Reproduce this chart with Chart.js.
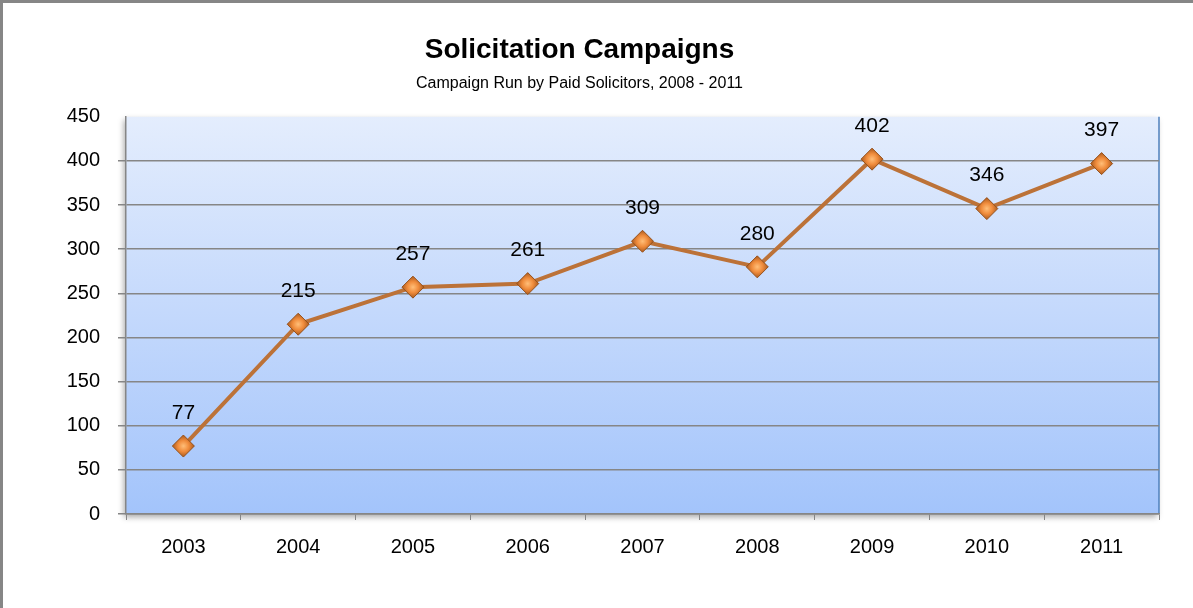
<!DOCTYPE html>
<html>
<head>
<meta charset="utf-8">
<script src="https://cdn.jsdelivr.net/npm/chart.js@4/dist/chart.umd.min.js"></script>
<style>
  body { margin: 0; background: #fff; }
  #wrap { width: 1193px; height: 608px; position: relative; }
</style>
</head>
<body>
<div id="wrap"><canvas id="campaigns"></canvas></div>
<script>
    // chart data
    const years = ['2003', '2004', '2005', '2006', '2007', '2008', '2009', '2010', '2011'];
    const campaigns = [77, 215, 257, 261, 309, 280, 402, 346, 397];
    const yTicks = [0, 50, 100, 150, 200, 250, 300, 350, 400, 450];

    const LINE_COLOR = 'rgb(188, 114, 56)';
    const GRID_COLOR = 'rgb(134, 134, 134)';
    const FONT = "'Liberation Sans', 'DejaVu Sans', sans-serif";

    // plot background, frame and right border
    const backgroundPlugin = {
    id: 'plotBackground',
    beforeDraw(chart) {
    const ctx = chart.ctx;
    const a = chart.chartArea;
    ctx.save();
    ctx.fillStyle = '#fff';
    ctx.fillRect(0, 0, chart.width, chart.height);
    // frame
    ctx.fillStyle = 'rgb(134, 134, 134)';
    ctx.fillRect(0, 0, chart.width, 3);
    ctx.fillRect(0, 0, 3, chart.height);
    // soft shadow
    ctx.shadowColor = 'rgba(0, 0, 0, 0.35)';
    ctx.shadowBlur = 6;
    ctx.shadowOffsetX = -2;
    ctx.shadowOffsetY = 3;
    const g = ctx.createLinearGradient(0, a.top, 0, a.bottom);
    g.addColorStop(0, 'rgb(228, 237, 253)');
    g.addColorStop(1, 'rgb(163, 196, 251)');
    ctx.fillStyle = g;
    ctx.fillRect(a.left, a.top, a.right - a.left, a.bottom - a.top);
    ctx.restore();
    ctx.save();
    ctx.strokeStyle = 'rgb(79, 129, 189)';
    ctx.lineWidth = 1.5;
    ctx.beginPath();
    ctx.moveTo(a.right, a.top);
    ctx.lineTo(a.right, a.bottom);
    ctx.stroke();
    ctx.restore();
}
};

    // value labels above points
    const valueLabelPlugin = {
    id: 'valueLabels',
    afterDatasetsDraw(chart) {
    const ctx = chart.ctx;
    const meta = chart.getDatasetMeta(0);
    ctx.save();
    ctx.fillStyle = '#000';
    ctx.font = '21px ' + FONT;
    ctx.textAlign = 'center';
    ctx.textBaseline = 'middle';
    meta.data.forEach((pt, i) => {
    ctx.fillText(String(campaigns[i]), pt.x, pt.y - 33);
});
    ctx.restore();
}
};

    function markerFill(context) {
    const el = context.element;
    if (!el || el.x === undefined || isNaN(el.x)) {
    return 'rgb(236, 140, 60)';
}
    const ctx = context.chart.ctx;
    const g = ctx.createRadialGradient(el.x, el.y, 0, el.x, el.y, 11);
    g.addColorStop(0, 'rgb(255, 190, 120)');
    g.addColorStop(0.5, 'rgb(240, 140, 60)');
    g.addColorStop(1, 'rgb(170, 90, 30)');
    return g;
}

    new Chart(document.getElementById('campaigns').getContext('2d'), {
    type: 'line',
    data: {
    labels: years,
    datasets: [{
    label: 'Campaigns',
    data: campaigns,
    borderColor: LINE_COLOR,
    borderWidth: 4,
    pointStyle: 'rectRot',
    pointRadius: 11,
    pointHoverRadius: 11,
    pointBackgroundColor: markerFill,
    pointBorderColor: 'rgb(150, 80, 25)',
    pointBorderWidth: 1,
    tension: 0
}]
},
    options: {
    responsive: true,
    maintainAspectRatio: false,
    animation: false,
    layout: {
    padding: { left: 0, right: 34, top: 0, bottom: 34 }
},
    plugins: {
    legend: { display: false },
    tooltip: { enabled: false },
    title: {
    display: true,
    text: 'Solicitation Campaigns',
    color: '#000',
    font: { family: FONT, size: 28, weight: 'bold' },
    padding: { top: 33, bottom: 7 }
},
    subtitle: {
    display: true,
    text: 'Campaign Run by Paid Solicitors, 2008 - 2011',
    color: '#000',
    font: { family: FONT, size: 16 },
    padding: { top: 0, bottom: 24 }
}
},
    scales: {
    x: {
    type: 'category',
    offset: true,
    grid: {
    offset: true,
    drawOnChartArea: false,
    color: GRID_COLOR,
    tickLength: 6,
    tickColor: GRID_COLOR
},
    border: { color: GRID_COLOR, width: 1.5 },
    ticks: {
    color: '#000',
    padding: 15,
    maxRotation: 0,
    font: { family: FONT, size: 20 }
},
    afterFit(scale) {
    scale.height = 60;
}
},
    y: {
    min: 0,
    max: 450,
    afterBuildTicks(scale) {
    scale.ticks = yTicks.map(v => ({ value: v }));
},
    grid: {
    color: ctx => (ctx.tick && ctx.tick.value === 450 ? 'rgba(0,0,0,0)' : GRID_COLOR),
    lineWidth: 1.5,
    tickLength: 8,
    tickColor: ctx => (ctx.tick && ctx.tick.value === 450 ? 'rgba(0,0,0,0)' : GRID_COLOR)
},
    border: { color: GRID_COLOR, width: 1.5 },
    ticks: {
    color: '#000',
    padding: 18,
    font: { family: FONT, size: 20 }
},
    afterFit(scale) {
    scale.width = 126;
}
}
}
},
    plugins: [backgroundPlugin, valueLabelPlugin]
});
</script>
</body>
</html>
